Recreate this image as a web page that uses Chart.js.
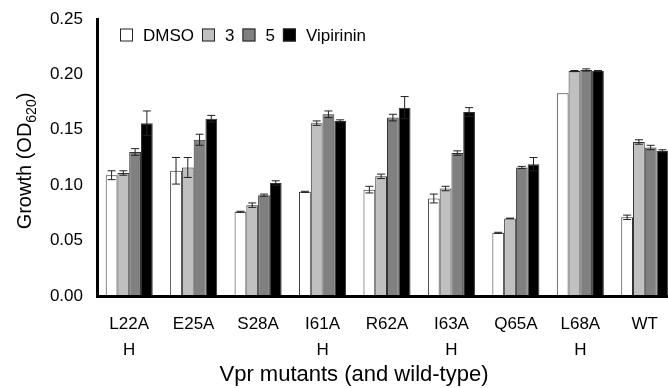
<!DOCTYPE html>
<html>
<head>
<meta charset="utf-8">
<script src="https://cdn.jsdelivr.net/npm/chart.js@4.4.1/dist/chart.umd.min.js"></script>
<style>
  html, body { margin: 0; padding: 0; background: #fff; overflow: hidden; }
  #wrap { width: 678px; height: 388px; }
</style>
</head>
<body>
<div id="wrap"><canvas id="barChart"></canvas></div>
<script>
// data
var mutants = ['L22A', 'E25A', 'S28A', 'I61A', 'R62A', 'I63A', 'Q65A', 'L68A', 'WT'];
var helix   = ['H', '', '', 'H', '', 'H', '', 'H', ''];
var dmso      = [0.109, 0.113, 0.076, 0.094, 0.096, 0.088, 0.057, 0.183, 0.071];
var dmsoErr   = [0.004, 0.012, 0.0005, 0.0005, 0.003, 0.004, 0.0005, 0, 0.002];
var cmpd3     = [0.111, 0.116, 0.082, 0.156, 0.108, 0.097, 0.070, 0.203, 0.139];
var cmpd3Err  = [0.002, 0.009, 0.002, 0.002, 0.002, 0.002, 0.0003, 0.0005, 0.002];
var cmpd5     = [0.130, 0.141, 0.091, 0.164, 0.161, 0.129, 0.116, 0.204, 0.134];
var cmpd5Err  = [0.003, 0.005, 0.001, 0.003, 0.003, 0.002, 0.001, 0.001, 0.002];
var vipi      = [0.156, 0.160, 0.102, 0.158, 0.170, 0.166, 0.119, 0.203, 0.131];
var vipiErr   = [0.011, 0.003, 0.002, 0.001, 0.010, 0.004, 0.006, 0.0005, 0.001];
var yTicks = [0, 0.05, 0.10, 0.15, 0.20, 0.25];

var FONT = '"Liberation Sans", Arial, sans-serif';
var labels = mutants.map(function (m, i) { return [m, helix[i]]; });

function ds(label, values, errs, color) {
    return {
        label: label,
        data: values,
        errors: errs,
        backgroundColor: color,
        borderColor: '#333',
        borderWidth: 1,
        categoryPercentage: 0.73,
        barPercentage: 1.0
    };
}

// error bars with caps
var errorBars = {
    id: 'errorBars',
    afterDatasetsDraw: function (chart) {
        var c = chart.ctx, y = chart.scales.y;
        c.save();
        c.strokeStyle = '#222';
        c.lineWidth = 1;
        chart.data.datasets.forEach(function (d, di) {
            chart.getDatasetMeta(di).data.forEach(function (bar, i) {
                var e = d.errors[i];
                if (!e) return;
                var top = y.getPixelForValue(d.data[i] + e);
                var bot = y.getPixelForValue(d.data[i] - e);
                c.beginPath();
                c.moveTo(bar.x, top); c.lineTo(bar.x, bot);
                c.moveTo(bar.x - 4, top); c.lineTo(bar.x + 4, top);
                c.moveTo(bar.x - 4, bot); c.lineTo(bar.x + 4, bot);
                c.stroke();
            });
        });
        c.restore();
    }
};

// horizontal legend inside the plot, top-left
var innerLegend = {
    id: 'innerLegend',
    afterDraw: function (chart) {
        var c = chart.ctx;
        var x = chart.chartArea.left + 23, y = 35;
        c.save();
        c.font = '17px ' + FONT;
        c.textBaseline = 'middle';
        c.textAlign = 'left';
        chart.data.datasets.forEach(function (d) {
            c.fillStyle = d.backgroundColor;
            c.fillRect(x, y - 6.5, 13, 13);
            c.strokeStyle = '#222';
            c.lineWidth = 1;
            c.strokeRect(x + 0.5, y - 6, 12, 12);
            x += 13 + 10;
            c.fillStyle = '#000';
            c.fillText(d.label, x, y + 1);
            x += c.measureText(d.label).width + 8;
        });
        c.restore();
    }
};

// axis titles (subscript in y title)
var axisTitles = {
    id: 'axisTitles',
    afterDraw: function (chart) {
        var c = chart.ctx;
        var small = '14px ' + FONT;
        c.save();
        c.fillStyle = '#000';
        c.textBaseline = 'alphabetic';
        c.font = '22px ' + FONT;
        c.textAlign = 'center';
        c.fillText('Vpr mutants (and wild-type)', 354, 381);

        var big = '20px ' + FONT;
        c.translate(31, 161);
        c.rotate(-Math.PI / 2);
        c.font = big;
        var w1 = c.measureText('Growth (OD').width;
        var w3 = c.measureText(')').width;
        c.font = small;
        var w2 = c.measureText('620').width;
        var x = -(w1 + w2 + w3) / 2;
        c.textAlign = 'left';
        c.font = big;
        c.fillText('Growth (OD', x, 0);
        c.font = small;
        c.fillText('620', x + w1, 5);
        c.font = big;
        c.fillText(')', x + w1 + w2, 0);
        c.restore();
    }
};

var ctx = document.getElementById('barChart').getContext('2d');
var myChart = new Chart(ctx, {
    type: 'bar',
    data: {
        labels: labels,
        datasets: [
            ds('DMSO', dmso, dmsoErr, '#ffffff'),
            ds('3', cmpd3, cmpd3Err, '#c0c0c0'),
            ds('5', cmpd5, cmpd5Err, '#808080'),
            ds('Vipirinin', vipi, vipiErr, '#000000')
        ]
    },
    options: {
        responsive: true,
        maintainAspectRatio: false,
        animation: false,
        layout: { padding: { top: 19, right: 1, bottom: 0, left: 0 } },
        plugins: {
            legend: { display: false },
            tooltip: { enabled: false }
        },
        scales: {
            x: {
                grid: { display: false, drawTicks: false },
                border: { color: '#000', width: 3, z: 1 },
                ticks: {
                    color: '#000',
                    padding: 16,
                    maxRotation: 0,
                    font: { size: 17, family: FONT, lineHeight: 1.5 }
                },
                afterFit: function (s) { s.height = 92; }
            },
            y: {
                min: 0,
                max: 0.25,
                afterBuildTicks: function (s) {
                    s.ticks = yTicks.map(function (v) { return { value: v }; });
                },
                grid: { display: false, drawOnChartArea: false, drawTicks: true, tickLength: 7, tickColor: '#000', tickWidth: 2 },
                border: { color: '#000', width: 3, z: 1 },
                ticks: {
                    color: '#000',
                    padding: 7,
                    font: { size: 17, family: FONT },
                    callback: function (v) { return v.toFixed(2); }
                },
                afterFit: function (s) { s.width = 97; }
            }
        }
    },
    plugins: [errorBars, innerLegend, axisTitles]
});
</script>
</body>
</html>
